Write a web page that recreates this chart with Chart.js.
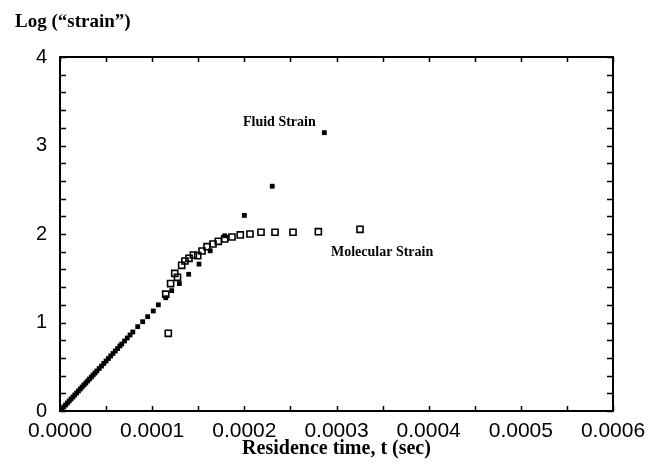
<!DOCTYPE html>
<html>
<head>
<meta charset="utf-8">
<script src="https://cdn.jsdelivr.net/npm/chart.js@4/dist/chart.umd.min.js"></script>
<style>
  html, body { margin: 0; padding: 0; background: #fff; }
  #wrap { width: 659px; height: 467px; position: relative; }
</style>
</head>
<body>
<div id="wrap"><canvas id="strainChart"></canvas></div>
<script>
// residence time (s) and log strain for the fluid
const fluidTime = [
  0, 0.000002, 0.000004, 0.000006, 0.000008, 0.000010, 0.000012, 0.000014,
  0.000016, 0.000018, 0.000020, 0.000022, 0.000024, 0.000026, 0.000028,
  0.000030, 0.000032, 0.000034, 0.000036, 0.000038, 0.000040, 0.0000425,
  0.000045, 0.0000475, 0.000050, 0.0000525, 0.000055, 0.0000575, 0.000060,
  0.0000625, 0.000065, 0.000067, 0.000070, 0.000073, 0.000076, 0.000079,
  0.0000843, 0.0000897, 0.0000951, 0.0001012, 0.0001067,
  0.0001147, 0.0001212, 0.0001295, 0.0001396, 0.0001508, 0.000163,
  0.0001787, 0.0002, 0.0002303, 0.0002868
];
const fluidLog = [
  0, 0.02, 0.045, 0.068, 0.09, 0.113, 0.136, 0.158,
  0.181, 0.203, 0.226, 0.249, 0.271, 0.294, 0.316,
  0.339, 0.362, 0.384, 0.407, 0.429, 0.452, 0.48,
  0.508, 0.537, 0.565, 0.593, 0.622, 0.65, 0.678,
  0.706, 0.735, 0.757, 0.791, 0.825, 0.859, 0.893,
  0.953, 1.009, 1.066, 1.13, 1.2,
  1.28, 1.36, 1.44, 1.545, 1.66, 1.81,
  1.98, 2.21, 2.54, 3.145
];

// residence time (s) and log strain for the molecules
const molTime = [
  0.0001147, 0.0001175, 0.00012, 0.0001245, 0.0001275, 0.000132, 0.0001356,
  0.00014, 0.0001447, 0.0001494, 0.0001541, 0.0001595, 0.000166, 0.0001718,
  0.0001787, 0.0001866, 0.0001956, 0.0002061, 0.0002181, 0.0002333,
  0.0002528, 0.0002803, 0.0003255
];
const molLog = [
  1.32, 0.878, 1.44, 1.555, 1.51, 1.646, 1.695,
  1.725, 1.763, 1.755, 1.808, 1.857, 1.887, 1.917,
  1.944, 1.966, 1.99, 2.0, 2.02, 2.02,
  2.02, 2.026, 2.053
];

const xTicks = [0, 0.0001, 0.0002, 0.0003, 0.0004, 0.0005, 0.0006];
const yTicks = [0, 1, 2, 3, 4];

const toPoints = (xs, ys) => xs.map((x, i) => ({ x: x, y: ys[i] }));

const serifBold = (px) => 'bold ' + px + 'px "Liberation Serif", "Times New Roman", serif';

// frame, inward ticks and the text labels
const framePlugin = {
  id: 'frame',
  beforeDatasetsDraw(chart) {
    const { ctx, chartArea: a, scales } = chart;
    const xs = scales.x, ys = scales.y;
    ctx.save();
    ctx.strokeStyle = '#000';
    ctx.lineWidth = 1.5;
    ctx.beginPath();
    for (let k = 0; k <= 12; k++) {
      const px = Math.round(xs.getPixelForValue(k * 0.00005)) + 0.5;
      ctx.moveTo(px, a.bottom); ctx.lineTo(px, a.bottom - 5);
      ctx.moveTo(px, a.top); ctx.lineTo(px, a.top + 5);
    }
    for (let k = 0; k <= 20; k++) {
      const py = Math.round(ys.getPixelForValue(k * 0.2)) + 0.5;
      ctx.moveTo(a.left, py); ctx.lineTo(a.left + 6, py);
      ctx.moveTo(a.right, py); ctx.lineTo(a.right - 6, py);
    }
    ctx.stroke();
    ctx.lineWidth = 2;
    ctx.strokeRect(a.left, a.top, a.right - a.left, a.bottom - a.top);
    ctx.restore();
  },
  afterDraw(chart) {
    const { ctx } = chart;
    ctx.save();
    ctx.fillStyle = '#000';
    ctx.textBaseline = 'middle';
    ctx.font = serifBold(19);
    ctx.textAlign = 'left';
    ctx.fillText('Log (\u201cstrain\u201d)', 15, 22);
    ctx.font = serifBold(14);
    ctx.fillText('Fluid Strain', 243, 122);
    ctx.fillText('Molecular Strain', 331, 252);
    ctx.restore();
  }
};

const ctx = document.getElementById('strainChart').getContext('2d');
const chart = new Chart(ctx, {
  type: 'scatter',
  data: {
    datasets: [
      {
        label: 'Fluid Strain',
        data: toPoints(fluidTime, fluidLog),
        pointStyle: 'rect',
        radius: 3.4,
        backgroundColor: '#000',
        borderColor: '#000',
        borderWidth: 0
      },
      {
        label: 'Molecular Strain',
        data: toPoints(molTime, molLog),
        pointStyle: 'rect',
        radius: 4.3,
        backgroundColor: 'rgba(255,255,255,0)',
        borderColor: '#000',
        borderWidth: 1.6
      }
    ]
  },
  options: {
    responsive: true,
    maintainAspectRatio: false,
    animation: false,
    layout: { padding: { top: 57, right: 46, left: 0, bottom: 0 } },
    plugins: {
      legend: { display: false },
      tooltip: { enabled: false }
    },
    scales: {
      x: {
        type: 'linear',
        min: 0,
        max: 0.0006,
        afterBuildTicks: (s) => { s.ticks = xTicks.map(v => ({ value: v })); },
        afterFit: (s) => { s.height = 56; },
        grid: { display: false, drawTicks: false },
        border: { display: false },
        ticks: {
          padding: 8,
          color: '#000',
          font: { family: '"Liberation Sans", Arial, sans-serif', size: 21 },
          maxRotation: 0,
          callback: (v) => Number(v).toFixed(4)
        },
        title: {
          display: true,
          text: 'Residence time, t (sec)',
          color: '#000',
          font: { family: '"Liberation Serif", "Times New Roman", serif', size: 20, weight: 'bold' },
          padding: { top: 0, bottom: 6 }
        }
      },
      y: {
        type: 'linear',
        min: 0,
        max: 4,
        afterBuildTicks: (s) => { s.ticks = yTicks.map(v => ({ value: v })); },
        afterFit: (s) => { s.width = 60; },
        grid: { display: false, drawTicks: false },
        border: { display: false },
        ticks: {
          padding: 13,
          color: '#000',
          font: { family: '"Liberation Sans", Arial, sans-serif', size: 20 },
          callback: (v) => String(v)
        }
      }
    }
  },
  plugins: [framePlugin]
});
</script>
</body>
</html>
